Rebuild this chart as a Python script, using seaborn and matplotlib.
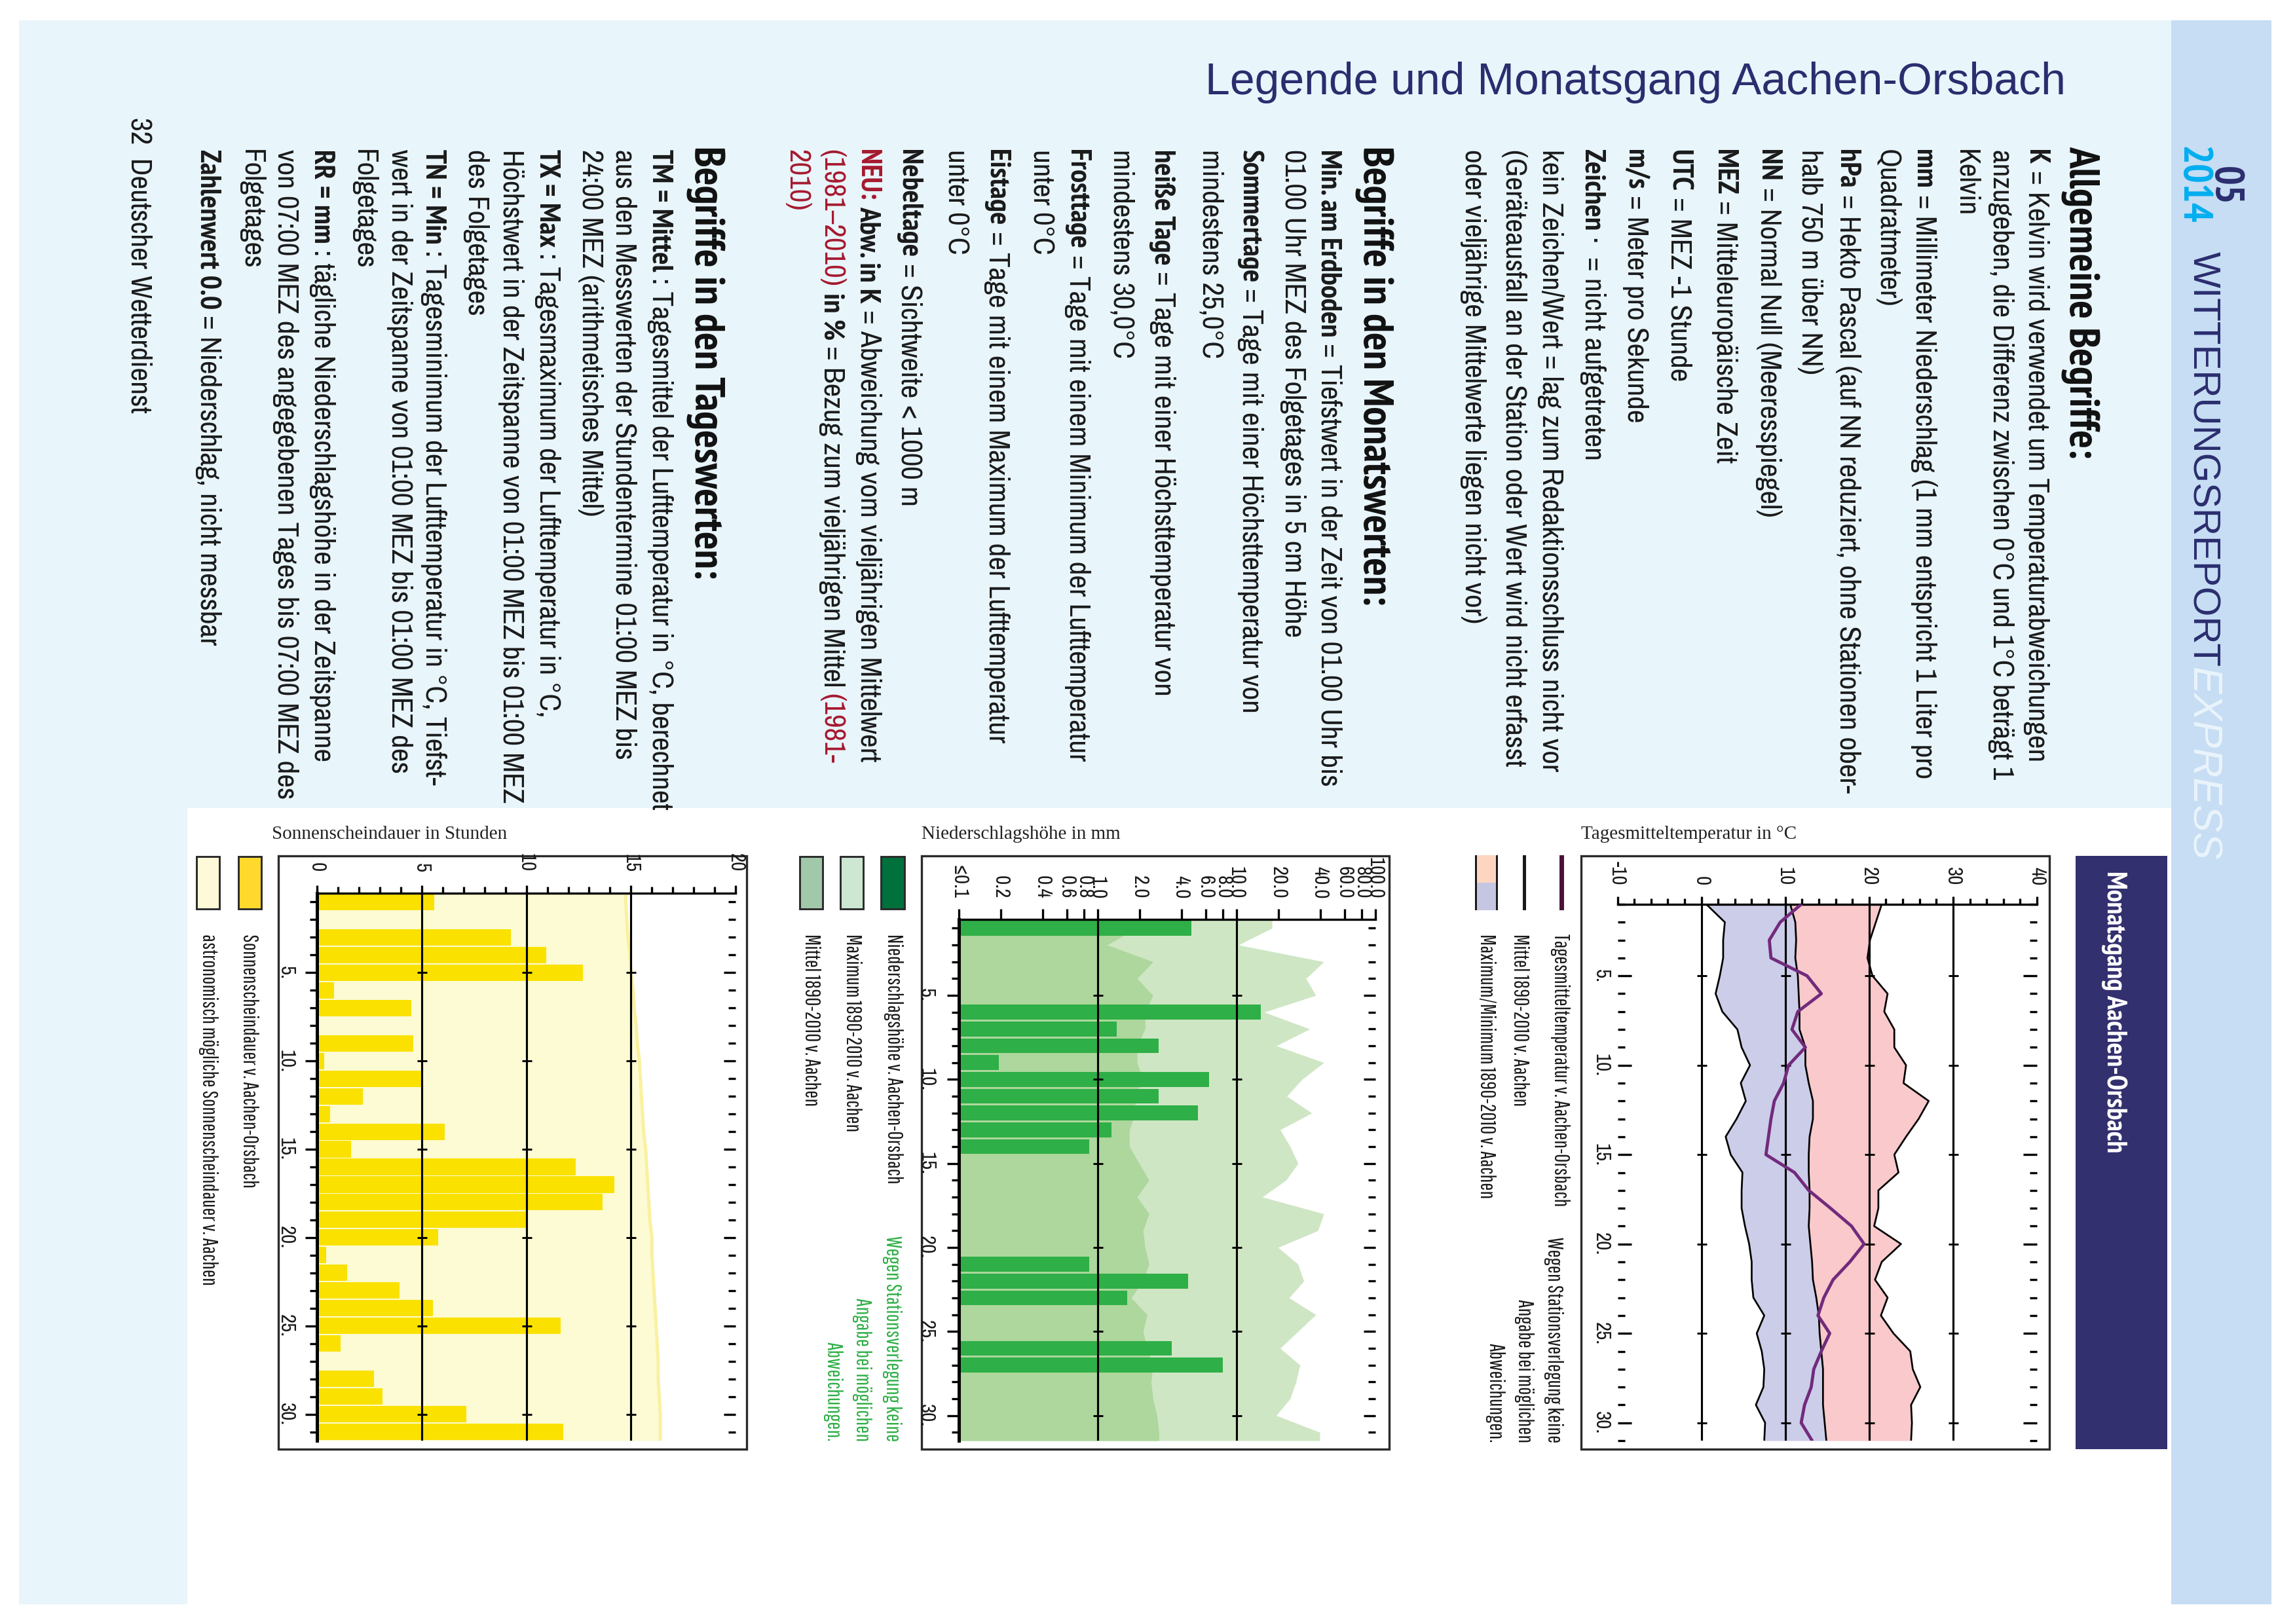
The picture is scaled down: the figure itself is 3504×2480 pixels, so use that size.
import re
import numpy as np
import matplotlib
matplotlib.use("Agg")
import logging
logging.getLogger("matplotlib.font_manager").setLevel(logging.ERROR)
import matplotlib.pyplot as plt
from matplotlib.patches import Rectangle
import seaborn as sns

sns.set_theme(style="white")
NARROW = ["Archivo Narrow", "Liberation Sans Narrow", "Liberation Sans", "DejaVu Sans"]
NARROWB = ["PT Sans Narrow", "Roboto Condensed", "Liberation Sans", "DejaVu Sans"]
TINY = ["Pathway Gothic One", "Barlow Condensed", "Liberation Sans", "DejaVu Sans"]
SANS = ["Liberation Sans", "DejaVu Sans"]
SERIF = ["Liberation Serif", "DejaVu Serif"]
plt.rcParams["font.family"] = NARROW

# ---------- data ----------
DAYS = list(range(1, 32))
DAY_LABELS = ["5.", "10.", "15.", "20.", "25.", "30."]
DAY_MAJOR = [5, 10, 15, 20, 25, 30]

TEMP_DAY = [11.9, 9.4, 8.1, 8.3, 12.6, 14.3, 11.5, 10.8, 12.4, 10.4, 9.8, 8.7, 8.3, 8.0, 7.7, 11.1,
            12.8, 15.4, 17.9, 19.4, 17.7, 15.7, 14.6, 13.9, 15.3, 14.3, 13.4, 13.1, 12.3, 11.9, 13.2]
TEMP_MEAN = [10.6, 11.2, 11.3, 11.2, 11.5, 11.6, 11.7, 11.7, 12.4, 12.4, 12.8, 13.3, 13.3, 12.9, 12.8, 12.8,
             12.9, 12.9, 12.8, 13.0, 13.2, 13.3, 13.7, 14.0, 14.1, 14.3, 14.5, 14.5, 14.5, 14.7, 14.9]
TEMP_MIN = [0.6, 2.8, 2.6, 2.6, 2.2, 1.7, 2.5, 4.3, 4.8, 5.8, 4.7, 5.3, 4.2, 2.9, 3.5, 4.9,
            4.8, 4.8, 5.2, 5.7, 6.0, 6.0, 6.2, 7.5, 6.6, 7.2, 7.5, 7.4, 6.5, 7.6, 7.5]
TEMP_MAX = [21.5, 20.8, 20.1, 19.8, 20.4, 22.2, 21.8, 23.0, 23.0, 24.4, 24.1, 27.1, 25.9, 24.4, 23.0, 23.5,
            21.1, 21.1, 20.6, 23.8, 21.5, 20.7, 22.2, 21.4, 22.9, 24.9, 25.2, 26.1, 25.0, 25.1, 25.0]
TEMP_TICKS = [-10, 0, 10, 20, 30, 40]
TEMP_GRID = [0, 10, 20, 30]

RAIN_DAYS = [1, 6, 7, 8, 9, 10, 11, 12, 13, 14, 21, 22, 23, 26, 27]
RAIN_VALS = [4.74, 15.0, 1.37, 2.74, 0.195, 6.37, 2.74, 5.27, 1.25, 0.873, 0.873, 4.50, 1.63, 3.41, 7.98]
RAIN_MAX = [18.0, 10.3, 42.5, 31.6, 37.2, 15.8, 33.7, 19.3, 42.5, 29.6, 23.0, 34.8, 20.6, 24.3, 27.7, 22.7,
            15.3, 42.5, 38.5, 19.9, 27.7, 30.5, 23.9, 37.2, 27.7, 20.6, 28.6, 26.8, 24.3, 19.3, 39.7]
RAIN_MEAN = [1.9, 1.17, 2.50, 1.92, 2.50, 2.19, 2.19, 1.92, 1.92, 2.12, 1.86, 1.86, 1.69, 1.69, 1.99, 2.34,
             1.92, 2.34, 2.12, 2.19, 2.34, 2.12, 1.74, 2.27, 2.12, 2.27, 2.50, 2.42, 2.50, 2.67, 2.76]
RAIN_TICKS = [0.1, 0.2, 0.4, 0.6, 0.8, 1, 2, 4, 6, 8, 10, 20, 40, 60, 80, 100]
RAIN_LABELS = ["≤0.1", "0.2", "0.4", "0.6", "0.8", "1.0", "2.0", "4.0", "6.0", "8.0", "10.0", "20.0",
               "40.0", "60.0", "80.0", "100.0"]
RAIN_GRID = [1, 10]

SUN_DAYS = [1, 3, 4, 5, 6, 7, 9, 10, 11, 12, 13, 14, 15, 16, 17, 18, 19, 20, 21, 22, 23, 24, 25, 26, 28, 29, 30, 31]
SUN_VALS = [5.6, 9.25, 10.95, 12.7, 0.83, 4.5, 4.6, 0.36, 5.0, 2.2, 0.63, 6.1, 1.63, 12.35, 14.2, 13.65, 10.0,
            5.8, 0.45, 1.45, 3.95, 5.55, 11.65, 1.13, 2.73, 3.14, 7.15, 11.75]
SUN_MAX = [14.75, 14.8, 14.85, 14.95, 15.0, 15.1, 15.15, 15.25, 15.3, 15.4, 15.45, 15.5, 15.55, 15.6, 15.7,
           15.75, 15.8, 15.85, 15.9, 16.0, 16.0, 16.05, 16.1, 16.15, 16.2, 16.25, 16.3, 16.3, 16.35, 16.4, 16.4]
SUN_TICKS = [0, 5, 10, 15, 20]
SUN_GRID = [5, 10, 15]

TITLE = "Legende und Monatsgang Aachen-Orsbach"
TEXT_LINES = [
    ("h", "Allgemeine Begriffe:"),
    ("b", "**K** = Kelvin wird verwendet um Temperaturabweichungen"),
    ("b", "anzugeben, die Differenz zwischen 0°C und 1°C beträgt 1"),
    ("b", "Kelvin"),
    ("b", "**mm** = Millimeter Niederschlag (1 mm entspricht 1 Liter pro"),
    ("b", "Quadratmeter)"),
    ("b", "**hPa** = Hekto Pascal (auf NN reduziert, ohne Stationen ober-"),
    ("b", "halb 750 m über NN)"),
    ("b", "**NN** = Normal Null (Meeresspiegel)"),
    ("b", "**MEZ** = Mitteleuropäische Zeit"),
    ("b", "**UTC** = MEZ -1 Stunde"),
    ("b", "**m/s** = Meter pro Sekunde"),
    ("b", "**Zeichen**  ·  = nicht aufgetreten"),
    ("b", "kein Zeichen/Wert = lag zum Redaktionsschluss nicht vor"),
    ("b", "(Geräteausfall an der Station oder Wert wird nicht erfasst"),
    ("b", "oder vieljährige Mittelwerte liegen nicht vor)"),
    ("h", "Begriffe in den Monatswerten:"),
    ("b", "**Min. am Erdboden** = Tiefstwert in der Zeit von 01.00 Uhr bis"),
    ("b", "01.00 Uhr MEZ des Folgetages in 5 cm Höhe"),
    ("b", "**Sommertage** = Tage mit einer Höchsttemperatur von"),
    ("b", "mindestens 25,0°C"),
    ("b", "**heiße Tage** = Tage mit einer Höchsttemperatur von"),
    ("b", "mindestens 30,0°C"),
    ("b", "**Frosttage** = Tage mit einem Minimum der Lufttemperatur"),
    ("b", "unter 0°C"),
    ("b", "**Eistage** = Tage mit einem Maximum der Lufttemperatur"),
    ("b", "unter 0°C"),
    ("b", "**Nebeltage** = Sichtweite < 1000 m"),
    ("b", "@@NEU:@@ **Abw. in K** = Abweichung vom vieljährigen Mittelwert"),
    ("b", "##(1981–2010)## **in %** = Bezug zum vieljährigen Mittel ##(1981-##"),
    ("b", "##2010)##"),
    ("h", "Begriffe in den Tageswerten:"),
    ("b", "**TM = Mittel** : Tagesmittel der Lufttemperatur in °C, berechnet"),
    ("b", "aus den Messwerten der Stundentermine 01:00 MEZ bis"),
    ("b", "24:00 MEZ (arithmetisches Mittel)"),
    ("b", "**TX = Max** : Tagesmaximum der Lufttemperatur in °C,"),
    ("b", "Höchstwert in der Zeitspanne von 01:00 MEZ bis 01:00 MEZ"),
    ("b", "des Folgetages"),
    ("b", "**TN = Min** : Tagesminimum der Lufttemperatur in °C, Tiefst-"),
    ("b", "wert in der Zeitspanne von 01:00 MEZ bis 01:00 MEZ des"),
    ("b", "Folgetages"),
    ("b", "**RR = mm** : tägliche Niederschlagshöhe in der Zeitspanne"),
    ("b", "von 07:00 MEZ des angegebenen Tages bis 07:00 MEZ des"),
    ("b", "Folgetages"),
    ("b", "**Zahlenwert 0.0** = Niederschlag, nicht messbar"),
]
NOTE_LINES = ["Wegen Stationsverlegung keine", "Angabe bei möglichen", "Abweichungen."]

# ---------- layout (pixel positions of the page) ----------
W, H = 3504, 2480
DPI = 300
S = 2.235
LINE_X = [1424, 1393, 1369, 1345, 1316, 1291, 1264, 1238, 1210, 1180, 1149, 1119, 1090, 1061, 1036, 1008,
          942, 910, 885, 856, 829, 796, 768, 738, 713, 683, 655, 623, 595, 570, 546,
          485, 453, 428, 405, 376, 351, 327, 298, 275, 250, 222, 197, 173, 144]
NAVY = "#2B2D6E"
RED = "#A6192E"
PANEL = "#E8F5FB"
BAND = "#C6DDF3"
INK = "#1A1A1A"
BODY = 10.85
LEG = 7.7

fig = plt.figure(figsize=(W / DPI, H / DPI), dpi=DPI, facecolor="white")
bg = fig.add_axes([0, 0, 1, 1], zorder=0)
bg.set_xlim(0, W)
bg.set_ylim(H, 0)
bg.axis("off")
renderer = fig.canvas.get_renderer()


def rect(x0, y0, x1, y1, **kw):
    kw.setdefault("linewidth", 0)
    bg.add_patch(Rectangle((x0, y0), x1 - x0, y1 - y0, **kw))


def vtext(x, y, s, size, family=NARROW, color=INK, weight="normal", style="normal", ha="left"):
    # x is the middle of the capitals, y the start (ha left) or the end (ha right) of the line
    base = x - 0.36 * size * DPI / 72
    return bg.text(base, y, s, rotation=-90, rotation_mode="anchor", fontsize=size, family=family, color=color,
                   weight=weight, style=style, ha=ha, va="baseline")


def rich_line(x, y, s, size):
    parts = re.split(r"(\*\*.*?\*\*|##.*?##|@@.*?@@)", s)
    gap = size * DPI / 72 * 0.2
    for p in parts:
        if not p.strip():
            continue
        weight, color, fam = "normal", INK, NARROW
        if p.startswith("**"):
            p, weight, fam = p[2:-2], "bold", NARROWB
        elif p.startswith("##"):
            p, color = p[2:-2], RED
        elif p.startswith("@@"):
            p, weight, color, fam = p[2:-2], "bold", RED, NARROWB
        p = p.strip()
        t = vtext(x, y, p, size, color=color, weight=weight, family=fam)
        y += t.get_window_extent(renderer).height + gap


# page blocks
rect(29, 31, 3315, 1234, facecolor=PANEL)
rect(29, 1234, 286, 2450, facecolor=PANEL)
rect(3315, 31, 3468, 2450, facecolor=BAND)
rect(3169, 1307, 3309, 2213, facecolor="#33306F")

bg.text(3154, 126, TITLE, fontsize=16.3, family=SANS, color=NAVY, ha="right", va="center")

for x, (kind, s) in zip(LINE_X, TEXT_LINES):
    if kind == "h":
        vtext(x * S, 223, s, 15.6, weight="bold", color="#111111", family=NARROWB)
    else:
        rich_line(x * S, 228, s, BODY)
vtext(217, 179, "32  Deutscher Wetterdienst", BODY)

# header band
vtext(3402, 254, "05", 15, weight="bold", color=NAVY, family=NARROWB)
vtext(3353, 223, "2014", 15, weight="bold", color="#00AEEF", family=NARROWB)
t = vtext(3369, 384, "WITTERUNGSREPORT", 14, family=SANS, color=NAVY)
vtext(3369, 384 + t.get_window_extent(renderer).height, "EXPRESS", 15, family=SANS, color="#EAF4FC", style="italic")
vtext(3232, 1330, "Monatsgang Aachen-Orsbach", 10.1, weight="bold", color="white", family=NARROWB)

# frames
FRAME = dict(facecolor="white", edgecolor="#2A2A2A", linewidth=0.8)
rect(2414, 1307, 3129, 2213, **FRAME)
rect(1407, 1307, 2121, 2213, **FRAME)
rect(425, 1307, 1140, 2213, **FRAME)


def chart_axes(x0, y0, x1, y1):
    ax = fig.add_axes([x0 / W, 1 - y1 / H, (x1 - x0) / W, (y1 - y0) / H], zorder=2)
    ax.patch.set_alpha(0)
    for sp in ("right", "bottom", "left"):
        ax.spines[sp].set_visible(False)
    ax.spines["top"].set_linewidth(0.8)
    ax.spines["top"].set_color("black")
    return ax


def style_days(ax, direction, maj_len, min_len, pad):
    ax.set_yticks(DAY_MAJOR)
    ax.set_yticklabels(DAY_LABELS, rotation=-90, va="center", fontsize=7.4, family=NARROW, color=INK)
    ax.set_yticks(DAYS, minor=True)
    ax.tick_params(axis="y", which="major", left=True, right=True, direction=direction, length=maj_len,
                   width=0.8, pad=pad, color="black")
    ax.tick_params(axis="y", which="minor", left=True, right=True, direction=direction, length=min_len,
                   width=0.8, color="black")
    ax.set_ylabel("")
    ax.set_xlabel("")
    # right-hand marks sit inside the plot whatever the left-hand direction is
    for tick in ax.yaxis.get_major_ticks() + ax.yaxis.get_minor_ticks():
        tick.tick2line.set_marker(matplotlib.markers.TICKLEFT)


def style_values(ax, ticks, labels, maj_len, pad):
    ax.xaxis.tick_top()
    ax.set_xticks(ticks)
    ax.set_xticklabels(labels, rotation=-90, ha="center", va="bottom", fontsize=7.4, family=NARROW, color=INK)
    ax.tick_params(axis="x", which="major", top=True, bottom=False, direction="out", length=maj_len,
                   width=0.8, pad=pad, color="black")


def grid_and_crosses(ax, grid):
    for g in grid:
        ax.axvline(g, color="black", lw=0.75, zorder=4)
    gx, gy = np.meshgrid(grid, DAY_MAJOR)
    ax.plot(gx.ravel(), gy.ravel(), ls="none", marker="_", ms=3.6, mew=0.7, color="black", zorder=4)


def edged(days, vals):
    return [days[0] - 0.5] + list(days) + [days[-1] + 0.5], [vals[0]] + list(vals) + [vals[-1]]


# ---- chart 1: temperature ----
ax1 = chart_axes(2469.5, 1381, 3110, 2200)
ax1.fill_betweenx(DAYS, TEMP_MIN, TEMP_MEAN, color="#CCCDE8", lw=0, zorder=1)
ax1.fill_betweenx(DAYS, TEMP_MEAN, TEMP_MAX, color="#F9C9CB", lw=0, zorder=1)
for vals in (TEMP_MIN, TEMP_MEAN, TEMP_MAX):
    sns.lineplot(x=vals, y=DAYS, orient="y", color="black", lw=0.65, estimator=None, ax=ax1, zorder=3, legend=False)
grid_and_crosses(ax1, TEMP_GRID)
sns.lineplot(x=TEMP_DAY, y=DAYS, orient="y", color="#722A7C", lw=1.15, estimator=None, ax=ax1, zorder=5, legend=False)
style_values(ax1, TEMP_TICKS, [str(v) for v in TEMP_TICKS], 3.0, 4.0)
ax1.set_xticks(np.arange(-10, 41, 2), minor=True)
ax1.tick_params(axis="x", which="minor", top=True, bottom=False, direction="out", length=2.2, width=0.8, color="black")
style_days(ax1, "in", 5, 2.6, 2.6)
ax1.set_xlim(-10, 40)
ax1.set_ylim(31, 1)

# ---- chart 2: precipitation ----
ax2 = chart_axes(1464, 1404.5, 2100, 2200)
ax2.set_xscale("log")
ey, emax = edged(DAYS, RAIN_MAX)
_, emean = edged(DAYS, RAIN_MEAN)
ax2.fill_betweenx(ey, 0.1, emax, color="#CFE6C4", lw=0, zorder=1)
ax2.fill_betweenx(ey, 0.1, emean, color="#ADD79D", lw=0, zorder=1.5)
sns.barplot(x=RAIN_VALS, y=RAIN_DAYS, orient="y", native_scale=True, color="#2FAF47", saturation=1, width=0.88,
            errorbar=None, linewidth=0, ax=ax2, zorder=2, legend=False)
grid_and_crosses(ax2, RAIN_GRID)
style_values(ax2, RAIN_TICKS, RAIN_LABELS, 3.8, 3.8)
ax2.minorticks_off()
style_days(ax2, "out", 4.3, 2.6, 4.3)
ax2.set_xlim(0.1, 100)
ax2.set_ylim(31.5, 0.5)
ax2.spines["left"].set_visible(True)
ax2.spines["left"].set_linewidth(1.2)
ax2.spines["left"].set_color("black")

# ---- chart 3: sunshine ----
ax3 = chart_axes(483.8, 1364, 1123.3, 2200)
ey, esun = edged(DAYS, SUN_MAX)
ax3.fill_betweenx(ey, 0, esun, color="#FCFBD3", lw=0, zorder=1)
sns.lineplot(x=esun, y=ey, orient="y", color="#F9F1A0", lw=1.2, estimator=None, ax=ax3, zorder=1.5, legend=False)
sns.barplot(x=SUN_VALS, y=SUN_DAYS, orient="y", native_scale=True, color="#FAE100", saturation=1, width=0.93,
            errorbar=None, linewidth=0, ax=ax3, zorder=2, legend=False)
grid_and_crosses(ax3, SUN_GRID)
style_values(ax3, SUN_TICKS, [str(v) for v in SUN_TICKS], 2.8, 5.0)
ax3.set_xticks(np.arange(0, 21, 1), minor=True)
ax3.tick_params(axis="x", which="minor", top=True, bottom=False, direction="out", length=2.4, width=0.8, color="black")
style_days(ax3, "out", 4.4, 2.6, 3.6)
ax3.set_xlim(0, 20)
ax3.set_ylim(31.5, 0.5)
ax3.spines["left"].set_visible(True)
ax3.spines["left"].set_linewidth(1.2)
ax3.spines["left"].set_color("black")

# ---- chart titles ----
TSER = dict(fontsize=7.0, family=SERIF, color="#222222", ha="left", va="center")
bg.text(2414, 1274, "Tagesmitteltemperatur in °C", **TSER)
bg.text(1407, 1274, "Niederschlagshöhe in mm", **TSER)
bg.text(415, 1274, "Sonnenscheindauer in Stunden", **TSER)

# ---- legends ----
LY = 1426
# temperature
rect(2381, 1306, 2388, 1390, facecolor="#4A1238")
rect(2325, 1306, 2330, 1390, facecolor="#1A1A1A")
rect(2252, 1306, 2287, 1348, facecolor="#FDD5C0")
rect(2252, 1348, 2287, 1390, facecolor="#C4C6E2")
rect(2252, 1306, 2255, 1390, facecolor="#1A1A1A")
rect(2284, 1306, 2287, 1390, facecolor="#1A1A1A")
vtext(2385, LY, "Tagesmitteltemperatur v. Aachen-Orsbach", LEG, family=TINY)
vtext(2323, LY, "Mittel 1890-2010 v. Aachen", LEG, family=TINY)
vtext(2272, LY, "Maximum/Minimum 1890-2010 v. Aachen", LEG, family=TINY)
for x, s in zip((2375, 2330, 2285), NOTE_LINES):
    vtext(x, 2203, s, LEG, family=TINY, ha="right")
# precipitation
EDGE = dict(edgecolor="#2A2A2A", linewidth=0.7)
rect(1345, 1308, 1381, 1388, facecolor="#00703C", **EDGE)
rect(1283, 1308, 1318, 1388, facecolor="#CDE7D3", **EDGE)
rect(1221, 1308, 1256, 1388, facecolor="#A2C8AA", **EDGE)
vtext(1367, LY, "Niederschlagshöhe v. Aachen-Orsbach", LEG, family=TINY)
vtext(1304, LY, "Maximum 1890-2010 v. Aachen", LEG, family=TINY)
vtext(1241, LY, "Mittel 1890-2010 v. Aachen", LEG, family=TINY)
for x, s in zip((1365, 1319, 1274), NOTE_LINES):
    vtext(x, 2201, s, LEG, family=TINY, color="#2FAF47", ha="right")
# sunshine
rect(364, 1308, 399, 1388, facecolor="#FFD92B", **EDGE)
rect(300, 1308, 335, 1388, facecolor="#FEF9D8", **EDGE)
vtext(383, LY, "Sonnenscheindauer v. Aachen-Orsbach", LEG, family=TINY)
vtext(321, LY, "astronomisch mögliche Sonnenscheindauer v. Aachen", LEG, family=TINY)

fig.savefig("out.png", dpi=DPI, facecolor="white")
